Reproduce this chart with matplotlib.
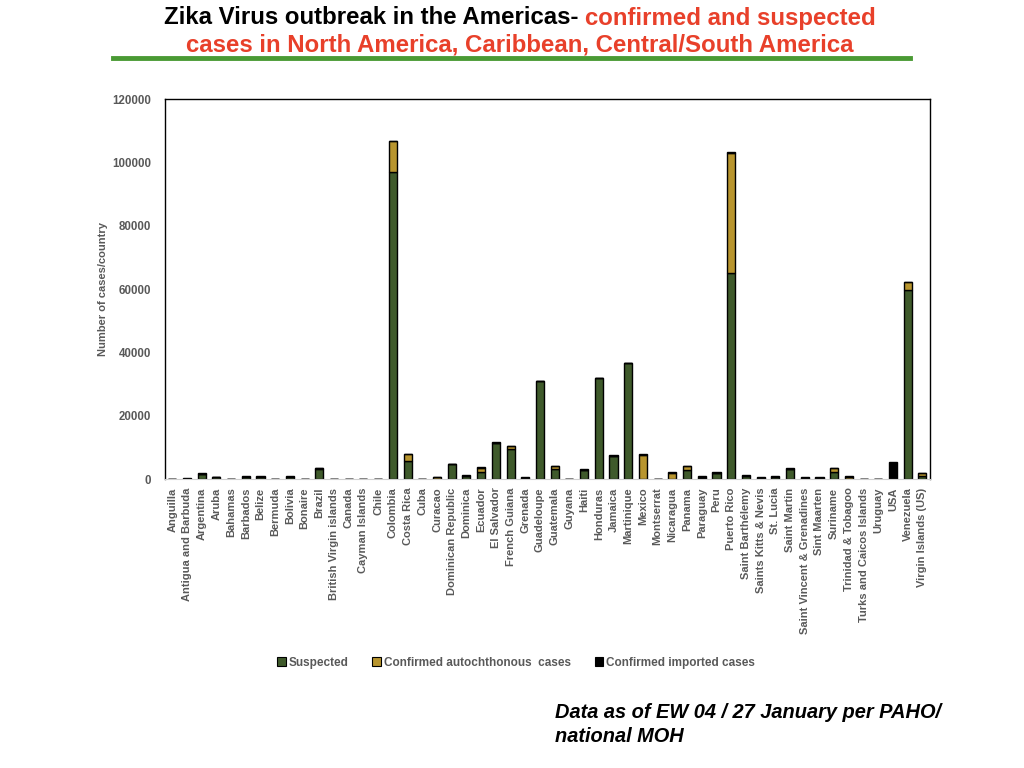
import numpy as np
import matplotlib
matplotlib.use("Agg")
import matplotlib.pyplot as plt
from matplotlib.patches import Patch

plt.rcParams['font.family'] = ['Liberation Sans', 'DejaVu Sans']

# countries and cases
countries = ["Anguilla", "Antigua and Barbuda", "Argentina", "Aruba", "Bahamas",
             "Barbados", "Belize", "Bermuda", "Bolivia", "Bonaire", "Brazil",
             "British Virgin islands", "Canada", "Cayman Islands", "Chile",
             "Colombia", "Costa Rica", "Cuba", "Curacao", "Dominican Republic",
             "Dominica", "Ecuador", "El Salvador", "French Guiana", "Grenada",
             "Guadeloupe", "Guatemala", "Guyana", "Haiti", "Honduras", "Jamaica",
             "Martinique", "Mexico", "Montserrat", "Nicaragua", "Panama",
             "Paraguay", "Peru", "Puerto Rico", "Saint Barthélemy",
             "Saints Kitts & Nevis", "St. Lucia", "Saint Martin",
             "Saint Vincent & Grenadines", "Sint Maarten", "Suriname",
             "Trinidad & Tobagoo", "Turks and Caicos Islands", "Uruguay", "USA",
             "Venezuela", "Virgin Islands (US)"]

suspected = [0, 200, 1700, 700, 0,
             700, 700, 0, 600, 0, 3100,
             0, 0, 0, 0,
             97000, 5600, 0, 0, 4700,
             1000, 2300, 11400, 9400, 300,
             30900, 3100, 0, 2900, 31800, 7300,
             36600, 0, 0, 0, 2800,
             500, 1900, 65000, 1000,
             300, 700, 3200,
             300, 300, 2400,
             0, 0, 0, 0,
             59800, 900]

autochthonous = [0, 0, 0, 0, 0,
                 0, 0, 0, 0, 0, 400,
                 0, 0, 0, 0,
                 9800, 2300, 0, 600, 0,
                 0, 1400, 0, 1000, 0,
                 0, 1000, 0, 0, 0, 0,
                 0, 7800, 0, 2100, 1300,
                 0, 0, 38000, 0,
                 0, 0, 0,
                 0, 0, 1100,
                 700, 0, 0, 0,
                 2300, 1000]

imported = [100, 200, 300, 100, 100,
            200, 200, 100, 500, 100, 200,
            100, 100, 100, 100,
            100, 100, 100, 100, 200,
            200, 100, 200, 200, 300,
            200, 100, 100, 200, 200, 200,
            200, 100, 100, 100, 100,
            400, 500, 200, 200,
            300, 200, 200,
            300, 300, 100,
            200, 100, 100, 5400,
            100, 200]

c_susp = '#3f5a2b'
c_auto = '#b8952e'
c_imp = '#000000'
grey = '#595959'

fig = plt.figure(figsize=(10.24, 7.68), dpi=100)
ax = fig.add_axes([0.161, 0.376, 0.747, 0.495])

x = np.arange(len(countries))
s = np.array(suspected)
a = np.array(autochthonous)
im = np.array(imported)
w = 0.55
ax.bar(x, s, w, color=c_susp, edgecolor='black', linewidth=1.0)
ax.bar(x, a, w, bottom=s, color=c_auto, edgecolor='black', linewidth=1.0)
ax.bar(x, im, w, bottom=s + a, color=c_imp, edgecolor='black', linewidth=1.0)

ax.set_xlim(-0.5, len(countries) - 0.5)
ax.set_ylim(0, 120000)
ax.set_yticks(np.arange(0, 120001, 20000))
ax.set_xticks(x)
ax.set_xticklabels(countries, rotation=90, fontsize=8, fontweight='bold', color=grey)
for lab in ax.get_yticklabels():
    lab.set_fontsize(8.3)
    lab.set_fontweight('bold')
    lab.set_color(grey)
ax.tick_params(axis='x', length=0, pad=6)
ax.tick_params(axis='y', length=0, pad=10)
ax.set_ylabel('Number of cases/country', fontsize=8, fontweight='bold', color=grey, labelpad=3)
ax.spines['bottom'].set_color('#d0d0d0')
for sp in ['left', 'top', 'right']:
    ax.spines[sp].set_linewidth(1.0)

handles = [Patch(facecolor=c_susp, edgecolor='black', linewidth=0.8),
           Patch(facecolor=c_auto, edgecolor='black', linewidth=0.8),
           Patch(facecolor=c_imp, edgecolor='black', linewidth=0.8)]
leg = fig.legend(handles, ['Suspected', 'Confirmed autochthonous  cases', 'Confirmed imported cases'],
                 loc='center', bbox_to_anchor=(0.504, 0.137), ncol=3, frameon=False,
                 handlelength=0.75, handleheight=0.75, handletextpad=0.25, columnspacing=2.0,
                 prop={'size': 8.5, 'weight': 'bold'})
for t in leg.get_texts():
    t.set_color(grey)

# title, two colours on the first line
tfont = dict(fontsize=17.3, fontweight='bold', family=['Liberation Sans Narrow', 'Liberation Sans'])
fig.canvas.draw()
r = fig.canvas.get_renderer()
t1 = fig.text(0, 1 - 18 / 768, 'Zika Virus outbreak in the Americas- ', color='black', va='center', ha='left', **tfont)
t2 = fig.text(0, 1 - 18 / 768, 'confirmed and suspected', color='#e8402a', va='center', ha='left', **tfont)
w1 = t1.get_window_extent(r).width / 1024
w2 = t2.get_window_extent(r).width / 1024
x0 = 0.508 - (w1 + w2) / 2
t1.set_x(x0)
t2.set_x(x0 + w1)
fig.text(0.508, 1 - 45 / 768, 'cases in North America, Caribbean, Central/South America',
         color='#e8402a', va='center', ha='center', **tfont)
fig.add_artist(plt.Line2D([113 / 1024, 910 / 1024], [1 - 58 / 768, 1 - 58 / 768],
                          color='#4a9a34', linewidth=3.5))

fig.text(555 / 1024, 1 - 712 / 768, 'Data as of EW 04 / 27 January per PAHO/',
         fontsize=14.4, fontweight='bold', style='italic', va='center', ha='left')
fig.text(555 / 1024, 1 - 737 / 768, 'national MOH',
         fontsize=14.4, fontweight='bold', style='italic', va='center', ha='left')

fig.savefig('out.png', dpi=100)
